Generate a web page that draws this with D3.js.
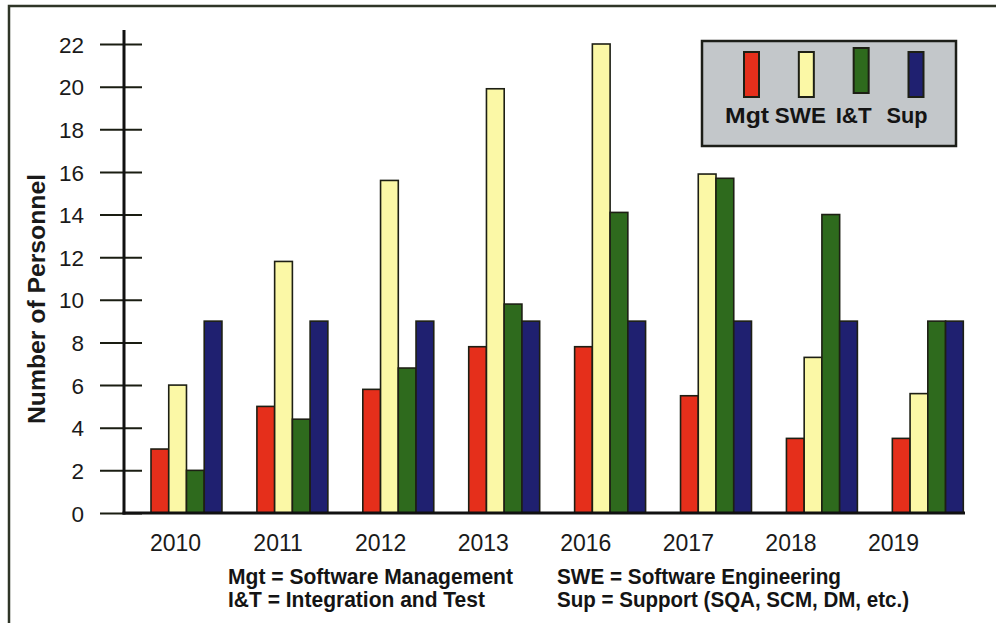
<!DOCTYPE html>
<html>
<head>
<meta charset="utf-8">
<script src="https://cdn.jsdelivr.net/npm/d3@7"></script>
<style>
  html, body { margin: 0; padding: 0; background: #fff; }
  svg { display: block; font-family: "Liberation Sans", Arial, sans-serif; }
</style>
</head>
<body>
<svg id="chart" width="996" height="623"></svg>
<script>
// Staffing profile by year and labour category
const years = ["2010", "2011", "2012", "2013", "2016", "2017", "2018", "2019"];
const seriesNames = ["Mgt", "SWE", "I&T", "Sup"];
const mgt = [3, 5, 5.8, 7.8, 7.8, 5.5, 3.5, 3.5];
const swe = [6, 11.8, 15.6, 19.9, 22, 15.9, 7.3, 5.6];
const iandt = [2, 4.4, 6.8, 9.8, 14.1, 15.7, 14, 9];
const sup = [9, 9, 9, 9, 9, 9, 9, 9];
const yTicks = [0, 2, 4, 6, 8, 10, 12, 14, 16, 18, 20, 22];
const footnotes = [
  "Mgt = Software Management",
  "SWE = Software Engineering",
  "I&T = Integration and Test",
  "Sup = Support (SQA, SCM, DM, etc.)"
];

const colors = { "Mgt": "#e52f1b", "SWE": "#fbf8a6", "I&T": "#2e6a1d", "Sup": "#1f2070" };
const values = { "Mgt": mgt, "SWE": swe, "I&T": iandt, "Sup": sup };

const svg = d3.select("#chart");

// page frame
svg.append("path")
  .attr("d", "M9,623V6H996")
  .attr("fill", "none")
  .attr("stroke", "#2f3527")
  .attr("stroke-width", 2.5);

const axisX = 124, baseY = 513;

const y = d3.scaleLinear().domain([0, 22]).range([baseY, 44]);
const x = d3.scaleBand().domain(years).range([151, 963.3]).paddingInner(0.33).paddingOuter(0);
const xs = d3.scaleBand().domain(seriesNames).range([0, x.bandwidth()]).padding(0);
const xLabel = d3.scalePoint().domain(years).range([175, 893]);

// bars
const rows = years.map((yr, i) => ({ year: yr, items: seriesNames.map(s => ({ s, v: values[s][i] })) }));
const groups = svg.append("g").selectAll("g")
  .data(rows).join("g")
  .attr("transform", d => `translate(${x(d.year)},0)`);
groups.selectAll("rect")
  .data(d => d.items).join("rect")
  .attr("x", d => xs(d.s))
  .attr("y", d => y(d.v))
  .attr("width", xs.bandwidth())
  .attr("height", d => y(0) - y(d.v))
  .attr("fill", d => colors[d.s])
  .attr("stroke", "#1d1f14")
  .attr("stroke-width", 1.6);

// y axis: ticks cross the axis line
const yAxis = d3.axisLeft(y).tickValues(yTicks).tickSize(0).tickPadding(0).tickFormat(d3.format("d"));
const ya = svg.append("g").attr("transform", `translate(${axisX},0)`).call(yAxis);
ya.select(".domain").remove();
ya.selectAll(".tick line")
  .attr("x1", -24).attr("x2", 18)
  .attr("stroke", "#1a1d12").attr("stroke-width", 2);
ya.selectAll(".tick text")
  .attr("x", -40)
  .attr("dy", "0.36em")
  .attr("font-size", 22.5)
  .attr("fill", "#1a1a1a")
  .attr("text-anchor", "end");

svg.append("line")
  .attr("x1", axisX).attr("x2", axisX)
  .attr("y1", 30).attr("y2", baseY + 1.5)
  .attr("stroke", "#111").attr("stroke-width", 3);
svg.append("line")
  .attr("x1", axisX - 1.5).attr("x2", 965)
  .attr("y1", baseY).attr("y2", baseY)
  .attr("stroke", "#111").attr("stroke-width", 3);

// x labels
const xAxis = d3.axisBottom(xLabel).tickSize(0).tickPadding(0);
const xa = svg.append("g").attr("transform", `translate(0,${baseY})`).call(xAxis);
xa.select(".domain").remove();
xa.selectAll(".tick text")
  .attr("y", 38).attr("dy", 0)
  .attr("font-size", 23)
  .attr("fill", "#1a1a1a");

// y title
svg.append("text")
  .attr("transform", "translate(45,299) rotate(-90)")
  .attr("text-anchor", "middle")
  .attr("font-size", 23)
  .attr("font-weight", "bold")
  .attr("fill", "#1a1a1a")
  .attr("textLength", 250)
  .attr("lengthAdjust", "spacingAndGlyphs")
  .text("Number of Personnel");

// legend
const lg = svg.append("g");
lg.append("rect")
  .attr("x", 702).attr("y", 41).attr("width", 254).attr("height", 105)
  .attr("fill", "#c3c7ca").attr("stroke", "#1c1e18").attr("stroke-width", 2.5);
const lsw = d3.scalePoint().domain(seriesNames).range([751.5, 916]);
const llab = d3.scalePoint().domain(seriesNames).range([747, 907]);
const labW = { "Mgt": 44, "SWE": 51, "I&T": 36, "Sup": 41 };
lg.selectAll("rect.sw").data(seriesNames).join("rect")
  .attr("class", "sw")
  .attr("x", d => lsw(d) - 7.5)
  .attr("y", d => d === "I&T" ? 48 : 52)
  .attr("width", 15).attr("height", 45)
  .attr("fill", d => colors[d])
  .attr("stroke", "#1d1f14").attr("stroke-width", 2);
lg.selectAll("text").data(seriesNames).join("text")
  .attr("x", d => llab(d))
  .attr("y", 123)
  .attr("text-anchor", "middle")
  .attr("font-size", 22)
  .attr("font-weight", "bold")
  .attr("fill", "#141414")
  .attr("textLength", d => labW[d])
  .attr("lengthAdjust", "spacingAndGlyphs")
  .text(d => d);

// footnotes
const fnPos = [
  { x: 228, y: 584, w: 285 },
  { x: 557, y: 584, w: 284 },
  { x: 228, y: 607, w: 257 },
  { x: 557, y: 607, w: 352 }
];
svg.append("g").selectAll("text").data(footnotes).join("text")
  .attr("x", (d, i) => fnPos[i].x)
  .attr("y", (d, i) => fnPos[i].y)
  .attr("font-size", 22)
  .attr("font-weight", "bold")
  .attr("fill", "#141414")
  .attr("textLength", (d, i) => fnPos[i].w)
  .attr("lengthAdjust", "spacingAndGlyphs")
  .text(d => d);
</script>
</body>
</html>
